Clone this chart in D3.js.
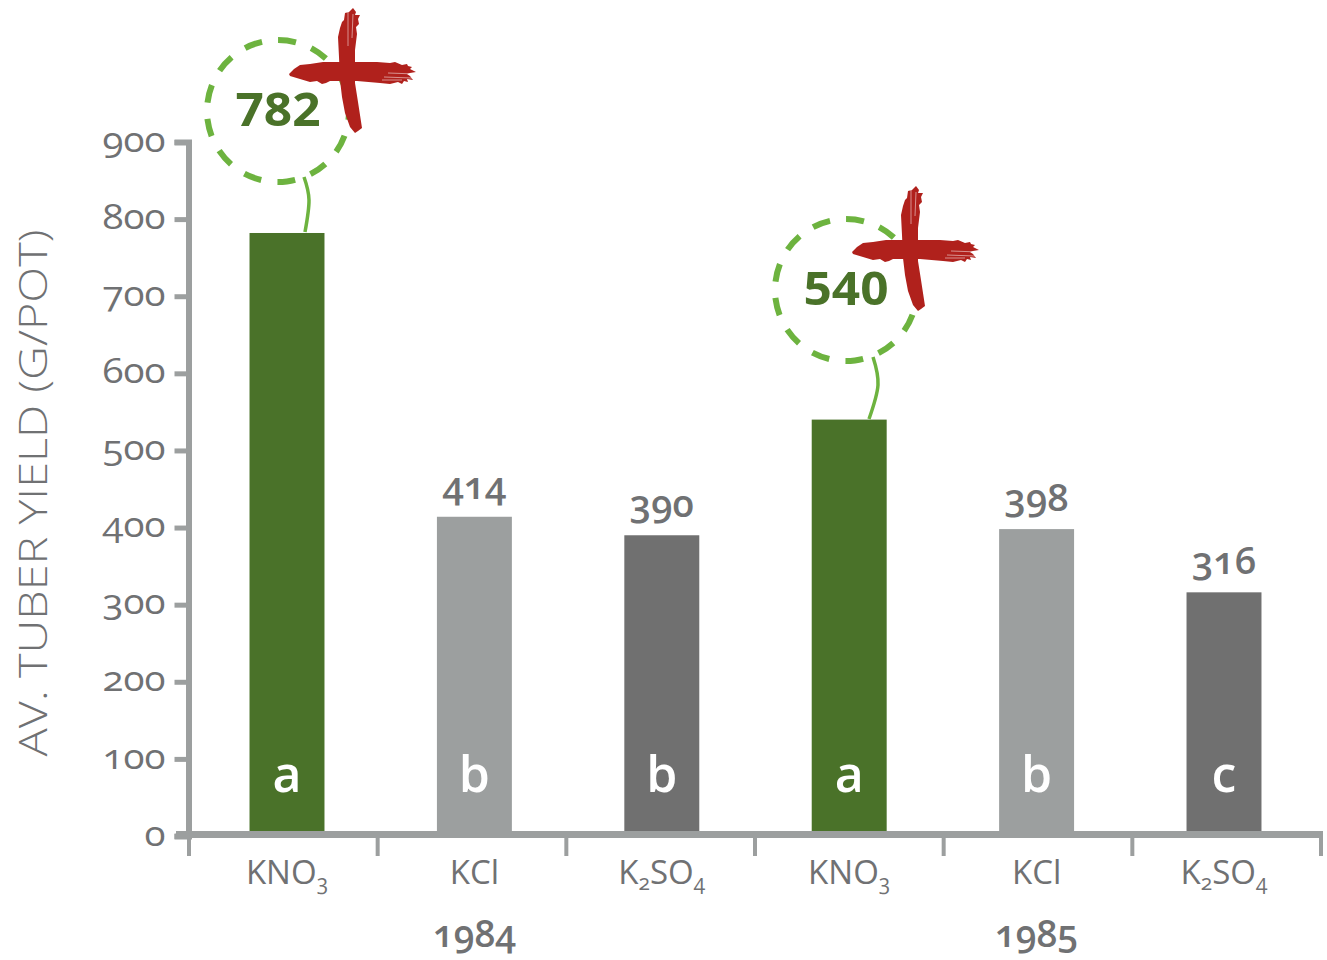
<!DOCTYPE html>
<html>
<head>
<meta charset="utf-8">
<script src="https://cdn.jsdelivr.net/npm/d3@7"></script>
<style>
  html, body { margin: 0; background: #fff; }
  svg { display: block; }
  text { font-family: "Open Sans", Lato, sans-serif; font-feature-settings: "onum" 1, "lnum" 0; }
</style>
</head>
<body>
<svg id="chart" width="1327" height="960"></svg>
<script>
// Potato tuber yield by potassium source, two seasons
const fertilisers = ["KNO3", "KCl", "K2SO4", "KNO3", "KCl", "K2SO4"];
const years = ["1984", "1985"];
const yields = [782, 414, 390, 540, 398, 316];
const groupLetters = ["a", "b", "b", "a", "b", "c"];
const barColors = ["#4a7229", "#9c9f9f", "#707070", "#4a7229", "#9c9f9f", "#707070"];
const yTicks = [0, 100, 200, 300, 400, 500, 600, 700, 800, 900];
const yTitle = "AV. TUBER YIELD (G/POT)";

// Brush-stroke plus sign, outlined as offsets around its centre
const plusHorizontal = [[-61,2],[-56,-3],[-50,-7],[-40,-8],[-27,-10],[0,-10],[27,-10],[40,-9],[45,-10],[52,-7],[57,-8],[58,-6],[62,-5],[60,-3],[66,0],[60,1],[57,2],[60,4],[63,8],[57,7],[58,10],[54,9],[52,12],[48,10],[40,12],[30,11],[7,9],[-20,9],[-24,11],[-28,12],[-33,9],[-40,10],[-50,7],[-60,4]];
const plusVertical = [[3,-64],[6,-60],[5,-57],[10,-57],[8,-53],[9,-48],[6,-45],[7,-38],[5,-22],[5,11],[8,30],[12,56],[8,59],[5,61],[0,55],[-5,41],[-8,25],[-10,8],[-11,-15],[-12,-35],[-10,-44],[-8,-50],[-6,-52],[-5,-59],[-1,-60]];
const plusStreaks = [[[38,1],[66,2]],[[34,5],[62,6]],[[32,8],[52,8]],[[-2,-60],[-2,-26]],[[3,-58],[2,-34]]];

const svg = d3.select("#chart");
const axisGrey = "#9c9f9f", textGrey = "#707173", ringGreen = "#6db33f", crossRed = "#b0211c";

const y = d3.scaleLinear().domain([0, 900]).range([836, 142]);
const x = d3.scaleBand().domain(d3.range(yields.length)).range([193.3, 1317.7])
  .paddingInner(0.6).paddingOuter(0.3);
const xEdges = d3.scaleBand().domain(d3.range(yields.length)).range([189, 1321]);
const xMid = i => x(i) + x.bandwidth() / 2;

// Bars
svg.append("g").selectAll("rect").data(yields).join("rect")
  .attr("x", (d, i) => x(i))
  .attr("width", x.bandwidth())
  .attr("y", d => y(d))
  .attr("height", d => y(0) - y(d))
  .attr("fill", (d, i) => barColors[i]);

// Value axis
const yAxis = svg.append("g").attr("transform", "translate(188.5,0)")
  .call(d3.axisLeft(y).tickValues(yTicks).tickSize(14).tickPadding(9).tickFormat(d3.format("d")));
yAxis.select(".domain").attr("stroke", axisGrey).attr("stroke-width", 6);
yAxis.selectAll(".tick line").attr("stroke", axisGrey).attr("stroke-width", 5);
yAxis.selectAll(".tick text").attr("fill", textGrey).attr("font-size", 34).attr("dy", "0.27em")
  .each(function(d) {
    // widen the numerals; a lone zero is one digit wide
    d3.select(this).attr("textLength", d === 0 ? 21 : 63).attr("lengthAdjust", "spacingAndGlyphs");
  });

// Category axis: ticks sit on the band edges
const edges = d3.range(yields.length).map(i => xEdges(i)).concat(1321);
const xAxis = svg.append("g");
xAxis.append("line").attr("x1", 176).attr("x2", 1323).attr("y1", y(0) - 1.5).attr("y2", y(0) - 1.5)
  .attr("stroke", axisGrey).attr("stroke-width", 7);
xAxis.selectAll(".edge").data(edges).join("line").attr("class", "edge")
  .attr("x1", d => d).attr("x2", d => d).attr("y1", y(0)).attr("y2", y(0) + 20)
  .attr("stroke", axisGrey).attr("stroke-width", 4);

// Category labels with chemical subscripts as real text
const cat = svg.append("g").selectAll("text").data(fertilisers).join("text")
  .attr("x", (d, i) => xMid(i))
  .attr("y", 884).attr("text-anchor", "middle").attr("fill", textGrey).attr("font-size", 33);
cat.each(function(d) {
  const t = d3.select(this);
  d.split(/(\d)/).filter(Boolean).forEach(part => {
    if (/\d/.test(part)) {
      t.append("tspan").attr("font-size", 21).attr("dy", 6).text(part);
    } else {
      const s = t.append("tspan").text(part);
      if (this.childNodes.length > 1) s.attr("dy", -6);
    }
  });
});

// Season labels
svg.append("g").selectAll("text").data(years).join("text")
  .attr("x", (d, i) => xMid(i * 3 + 1))
  .attr("y", 947).attr("text-anchor", "middle").attr("fill", textGrey)
  .attr("font-size", 37).attr("font-weight", 600).text(d => d);

// Axis title
svg.append("text")
  .attr("transform", "translate(47,493) rotate(-90)")
  .attr("text-anchor", "middle").attr("fill", textGrey)
  .attr("font-size", 39).attr("font-weight", 300)
  .attr("textLength", 527).attr("lengthAdjust", "spacingAndGlyphs").text(yTitle);

// Significance letters inside each bar
svg.append("g").selectAll("text").data(groupLetters).join("text")
  .attr("x", (d, i) => xMid(i))
  .attr("y", 792).attr("text-anchor", "middle").attr("fill", "#fff")
  .attr("font-size", 50).attr("font-weight", 600).text(d => d);

// Plain value labels above the non-highlighted bars
const plainIdx = d3.range(yields.length).filter(i => i % 3 !== 0);
svg.append("g").selectAll("text").data(plainIdx).join("text")
  .attr("x", xMid)
  .attr("y", i => y(yields[i]) - 18).attr("text-anchor", "middle").attr("fill", textGrey)
  .attr("font-size", 38).attr("font-weight", 600).text(i => yields[i]);

// Ringed call-outs above the KNO3 bars, each with a brush-stroke plus
const callouts = [
  { bar: 0, cx: 278, cy: 111, px: 350, py: 72, stem: [[304,177],[309,200],[305,232]] },
  { bar: 3, cx: 846, cy: 290, px: 913, py: 250, stem: [[873,357],[878,385],[869,419]] }
];
const outline = d3.line().curve(d3.curveLinearClosed);
const stemLine = d3.line().curve(d3.curveNatural);
const ringLength = 2 * Math.PI * 71, ringDash = 18, ringPeriod = ringLength / 13;
callouts.forEach(c => {
  const g = svg.append("g");
  g.append("path").attr("d", stemLine(c.stem))
    .attr("fill", "none").attr("stroke", ringGreen).attr("stroke-width", 3.5);
  g.append("circle").attr("cx", c.cx).attr("cy", c.cy).attr("r", 71)
    .attr("fill", "none").attr("stroke", ringGreen).attr("stroke-width", 6)
    .attr("stroke-dasharray", `${ringDash} ${ringPeriod - ringDash}`)
    .attr("transform", `rotate(-7.26 ${c.cx} ${c.cy})`);
  g.append("text").attr("x", c.cx).attr("y", c.cy + 15).attr("text-anchor", "middle")
    .attr("fill", "#4a7229").attr("font-size", 47).attr("font-weight", 700)
    .attr("textLength", 85).attr("lengthAdjust", "spacingAndGlyphs")
    .style("font-feature-settings", '"lnum" 1').text(yields[c.bar]);
  const plus = g.append("g").attr("transform", `translate(${c.px},${c.py})`);
  plus.append("path").attr("d", outline(plusVertical)).attr("fill", crossRed);
  plus.append("path").attr("d", outline(plusHorizontal)).attr("fill", crossRed);
  plus.selectAll("line").data(plusStreaks).join("line")
    .attr("x1", d => d[0][0]).attr("y1", d => d[0][1]).attr("x2", d => d[1][0]).attr("y2", d => d[1][1])
    .attr("stroke", "#fff").attr("stroke-opacity", 0.5).attr("stroke-width", 1);
});
</script>
</body>
</html>
